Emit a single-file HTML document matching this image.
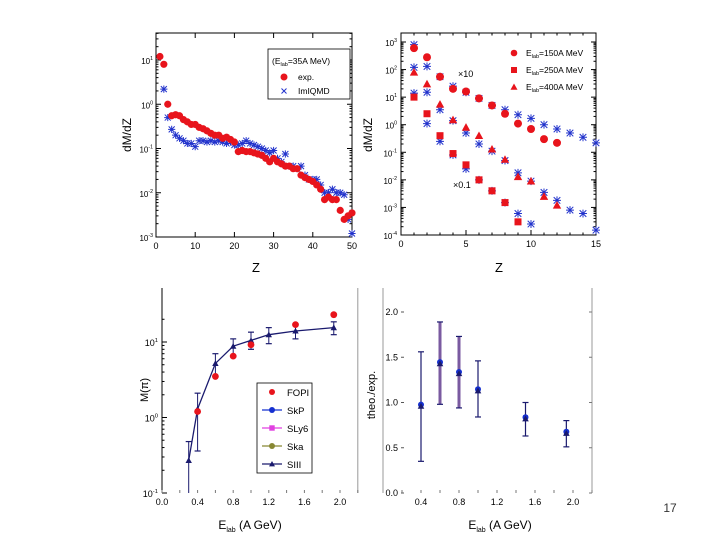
<!DOCTYPE html>
<html><head><meta charset="utf-8">
<style>
html,body{margin:0;padding:0;background:#fff;}
svg{display:block;font-family:"Liberation Sans",sans-serif;}
</style></head>
<body>
<svg id="fig" width="720" height="540" viewBox="0 0 720 540"></svg>
<script>
// ---- Panel A data (Elab=35A MeV) ----
const aZexp = [1,2,3,4,5,6,7,8,9,10,11,12,13,14,15,16,17,18,19,20,21,22,23,24,25,26,27,28,29,30,31,32,33,34,35,36,37,38,39,40,41,42,43,44,45,46,47,48,49,50];
const aExp = [12,8,1.0,0.55,0.58,0.55,0.45,0.4,0.35,0.35,0.3,0.28,0.25,0.22,0.2,0.2,0.17,0.18,0.16,0.14,0.085,0.09,0.085,0.085,0.08,0.075,0.07,0.06,0.05,0.06,0.05,0.045,0.04,0.04,0.035,0.035,0.025,0.022,0.02,0.018,0.015,0.012,0.007,0.008,0.007,0.007,0.004,0.0025,0.003,0.0035];
const aZqmd = [2,3,4,5,6,7,8,9,10,11,12,13,14,15,16,17,18,19,20,21,22,23,24,25,26,27,28,29,30,31,32,33,34,35,36,37,38,39,40,41,42,43,44,45,46,47,48,49,50];
const aQmd = [2.2,0.5,0.27,0.2,0.17,0.15,0.13,0.13,0.11,0.15,0.15,0.14,0.15,0.14,0.15,0.14,0.13,0.14,0.12,0.12,0.13,0.15,0.13,0.12,0.11,0.1,0.09,0.08,0.09,0.06,0.05,0.075,0.04,0.04,0.035,0.04,0.025,0.02,0.02,0.02,0.015,0.01,0.01,0.012,0.01,0.01,0.009,0.0025,0.0012];
// ---- Panel B data ----
const bZ = [1,2,3,4,5,6,7,8,9,10,11,12,13,14,15];
const b150 = [600,280,55,20,16,9,5,2.5,1.1,0.7,0.3,0.22];
const b150q = [800,130,55,25,15,9,5,3.5,2.3,1.7,1.0,0.7,0.5,0.35,0.22];
const b400 = [80,30,5.5,1.5,0.8,0.4,0.13,0.055,0.013,0.009,0.0025,0.0012];
const b400q = [120,15,3.5,1.4,0.5,0.2,0.11,0.05,0.018,0.009,0.0035,0.0018,0.0008,0.0006,0.00015];
const b250 = [10,2.5,0.4,0.09,0.035,0.01,0.004,0.0015,0.0003];
const b250q = [14,1.1,0.25,0.08,0.025,0.01,0.004,0.0015,0.0006,0.00025];
// ---- Panel C data ----
const cE = [0.3,0.4,0.6,0.8,1.0,1.2,1.5,1.93];
const cModel = [0.27,1.3,5.2,8.8,10.5,12.5,14,15.5];
const cLo = [0.1,0.36,3.5,6.5,8,9.5,11,12.5];
const cHi = [0.48,2.1,7,11,13.5,15.5,17.5,18.5];
const cFopiE = [0.4,0.6,0.8,1.0,1.5,1.93];
const cFopi = [1.2,3.5,6.5,9.2,17,23];
// ---- Panel D data ----
const dE = [0.4,0.6,0.8,1.0,1.5,1.93];
const dRatio = [0.96,1.43,1.32,1.13,0.82,0.66];
const dLo = [0.35,0.98,0.94,0.84,0.63,0.51];
const dHi = [1.56,1.89,1.73,1.46,1.0,0.8];

const NS="http://www.w3.org/2000/svg", svg=document.getElementById('fig');
function el(tag,attrs,parent,txt){const e=document.createElementNS(NS,tag);for(const k in attrs)e.setAttribute(k,attrs[k]);if(txt!==undefined)e.textContent=txt;(parent||svg).appendChild(e);return e;}
function lin(d0,d1,r0,r1){return v=>r0+(v-d0)/(d1-d0)*(r1-r0);}
function lg(d0,d1,r0,r1){return v=>r0+(Math.log10(v)-Math.log10(d0))/(Math.log10(d1)-Math.log10(d0))*(r1-r0);}
const RED="#e8141c",BLUE="#2233cc",NAVY="#1a1a6e";
function circ(g,x,y,r,c){el('circle',{cx:x,cy:y,r:r,fill:c},g);}
function sq(g,x,y,s,c){el('rect',{x:x-s,y:y-s,width:2*s,height:2*s,fill:c},g);}
function tri(g,x,y,s,c){el('polygon',{points:`${x},${y-s} ${x-s},${y+s*0.8} ${x+s},${y+s*0.8}`,fill:c},g);}
function xm(g,x,y,s,c){el('path',{d:`M${x-s},${y-s}L${x+s},${y+s}M${x-s},${y+s}L${x+s},${y-s}`,stroke:c,'stroke-width':1},g);}
function star(g,x,y,s,c){el('path',{d:`M${x-s},${y-s}L${x+s},${y+s}M${x-s},${y+s}L${x+s},${y-s}M${x},${y-s*1.2}L${x},${y+s*1.2}M${x-s*1.2},${y}L${x+s*1.2},${y}`,stroke:c,'stroke-width':1},g);}
function frame(g,x0,y0,x1,y1){el('rect',{x:x0,y:y0,width:x1-x0,height:y1-y0,fill:'none',stroke:'#000','stroke-width':1},g);}
function logTicks(g,ys,x0,x1,d0,d1){for(let e=Math.floor(Math.log10(d0));e<=Math.ceil(Math.log10(d1));e++){for(let m=1;m<10;m++){const v=m*Math.pow(10,e);if(v<d0*0.999||v>d1*1.001)continue;const y=ys(v),L=m==1?5:2.5;el('line',{x1:x0,y1:y,x2:x0+L,y2:y,stroke:'#000'},g);el('line',{x1:x1,y1:y,x2:x1-L,y2:y,stroke:'#000'},g);}}}
function pow10(g,x,y,e,fs){const t=el('text',{x:x,y:y,'font-size':fs,'text-anchor':'end'},g);const a=el('tspan',{},t,'10');const b=el('tspan',{dy:-4,'font-size':fs*0.65},t,String(e));}

// ================= Panel A =================
(function(){
const g=el('g',{});
const X=lin(0,50,156,352), Y=lg(1e-3,10,237,60);
frame(g,156,33,352,237);
logTicks(g,Y,156,352,1e-3,10**1.63);
for(let v=0;v<=50;v+=10){el('line',{x1:X(v),y1:237,x2:X(v),y2:232,stroke:'#000'},g);el('line',{x1:X(v),y1:33,x2:X(v),y2:38,stroke:'#000'},g);
 el('text',{x:X(v),y:249,'font-size':9,'text-anchor':'middle',},g,String(v));}
for(let e=-3;e<=1;e++)pow10(g,153,Y(10**e)+4,e,8);
aQmd.forEach((v,i)=>star(g,X(aZqmd[i]),Y(v),3,BLUE));
aExp.forEach((v,i)=>circ(g,X(aZexp[i]),Y(v),3.6,RED));
const L=el('g',{},g);
el('rect',{x:268,y:49,width:82,height:50,fill:'#fff',stroke:'#000','stroke-width':0.8},L);
const t=el('text',{x:272,y:64,'font-size':8.5},L);el('tspan',{},t,'(E');el('tspan',{dy:2,'font-size':5.5},t,'lab');el('tspan',{dy:-2},t,'=35A MeV)');
circ(L,284,77,3.5,RED);el('text',{x:298,y:80,'font-size':8.5},L,'exp.');
xm(L,284,91,2.5,BLUE);el('text',{x:298,y:94,'font-size':8.5},L,'ImIQMD');
el('text',{x:131,y:135,'font-size':12,'text-anchor':'middle',transform:'rotate(-90 131 135)',},g,'dM/dZ');
el('text',{x:256,y:272,'font-size':13,'text-anchor':'middle',},g,'Z');
})();

// ================= Panel B =================
(function(){
const g=el('g',{});
const X=lin(0,15,401,596), Y=lg(1e-4,1e3,235,42);
frame(g,401,33,596,235);
logTicks(g,Y,401,596,1e-4,10**3.3);
for(let v=0;v<=15;v++){const L=v%5==0?5:2.5;el('line',{x1:X(v),y1:235,x2:X(v),y2:235-L,stroke:'#000'},g);el('line',{x1:X(v),y1:33,x2:X(v),y2:33+L,stroke:'#000'},g);}
for(let v=0;v<=15;v+=5)el('text',{x:X(v),y:247,'font-size':9,'text-anchor':'middle',},g,String(v));
for(let e=-4;e<=3;e++)pow10(g,397,Y(10**e)+4,e,8);
b150q.forEach((v,i)=>star(g,X(bZ[i]),Y(v),3.3,BLUE));
b400q.forEach((v,i)=>star(g,X(bZ[i]),Y(v),3.3,BLUE));
b250q.forEach((v,i)=>star(g,X(bZ[i]),Y(v),3.3,BLUE));
b150.forEach((v,i)=>circ(g,X(bZ[i]),Y(v),4,RED));
b400.forEach((v,i)=>tri(g,X(bZ[i]),Y(v),4.2,RED));
b250.forEach((v,i)=>sq(g,X(bZ[i]),Y(v),3.5,RED));
el('text',{x:458,y:77,'font-size':9,},g,'×10');
el('text',{x:453,y:188,'font-size':9,},g,'×0.1');
const L=el('g',{},g);
const labs=['150','250','400'];
labs.forEach((s,i)=>{const y=53+i*17;if(i==0)circ(L,514,y,3.3,RED);else if(i==1)sq(L,514,y,3,RED);else tri(L,514,y,3.5,RED);
 const t=el('text',{x:526,y:y+3,'font-size':8.5},L);el('tspan',{},t,'E');el('tspan',{dy:2,'font-size':5.5},t,'lab');el('tspan',{dy:-2},t,'='+s+'A MeV');});
el('text',{x:372,y:135,'font-size':12,'text-anchor':'middle',transform:'rotate(-90 372 135)',},g,'dM/dZ');
el('text',{x:499,y:272,'font-size':13,'text-anchor':'middle',},g,'Z');
})();

// ================= Panel C =================
(function(){
const g=el('g',{});
const X=lin(0,2.0,162,340), Y=lg(0.1,10,493,342);
const x1=X(2.2);
el('line',{x1:162,y1:288,x2:162,y2:493,stroke:'#000'},g);
el('line',{x1:x1,y1:288,x2:x1,y2:493,stroke:'#999'},g);
for(let e=-1;e<=1;e++)for(let m=1;m<10;m++){const v=m*10**e;if(v>10**1.35)continue;const y=Y(v),L=m==1?5:2.5;el('line',{x1:162,y1:y,x2:162+L,y2:y,stroke:'#000'},g);}
for(let v=0;v<=2.2001;v+=0.2){el('line',{x1:X(v),y1:493,x2:X(v),y2:490,stroke:'#777'},g);}
[0,0.4,0.8,1.2,1.6,2.0].forEach(v=>el('text',{x:X(v),y:505,'font-size':9,'text-anchor':'middle',},g,v.toFixed(1)));
for(let e=-1;e<=1;e++)pow10(g,158,Y(10**e)+4,e,9);
const pts=cE.map((v,i)=>X(v)+','+Y(cModel[i])).join(' ');
el('polyline',{points:pts,fill:'none',stroke:NAVY,'stroke-width':1.3,},g);
cE.forEach((v,i)=>{const x=X(v);el('line',{x1:x,y1:Y(cLo[i]),x2:x,y2:Y(cHi[i]),stroke:NAVY,'stroke-width':1},g);
 [cLo[i],cHi[i]].forEach(w=>{if(w>0.1)el('line',{x1:x-3,y1:Y(w),x2:x+3,y2:Y(w),stroke:NAVY,'stroke-width':1.2},g);});
 tri(g,x,Y(cModel[i]),3.2,NAVY);});
cFopi.forEach((v,i)=>circ(g,X(cFopiE[i]),Y(v),3.4,RED));
const L=el('g',{},g);
el('rect',{x:257,y:383,width:55,height:90,fill:'#fff',stroke:'#000','stroke-width':0.8},L);
const items=[['FOPI',RED,'c',false],['SkP','#1530d0','c',true],['SLy6','#e040e0','s',true],['Ska','#888833','c',true],['SIII',NAVY,'t',true]];
items.forEach((it,i)=>{const y=392+i*18;if(it[3])el('line',{x1:262,y1:y,x2:282,y2:y,stroke:it[1],'stroke-width':1.3},L);
 if(it[2]=='c')circ(L,272,y,3,it[1]);else if(it[2]=='s')sq(L,272,y,2.7,it[1]);else tri(L,272,y,3,it[1]);
 el('text',{x:287,y:y+4,'font-size':9.5},L,it[0]);});
el('text',{x:148,y:390,'font-size':11,'text-anchor':'middle',transform:'rotate(-90 148 390)',},g,'M(π)');
const t=el('text',{x:250,y:529,'font-size':12,'text-anchor':'middle',},g);el('tspan',{},t,'E');el('tspan',{dy:3,'font-size':7},t,'lab');el('tspan',{dy:-3},t,' (A GeV)');
})();

// ================= Panel D =================
(function(){
const g=el('g',{});
const X=lin(0,2.0,383,573), Y=lin(0,2.0,493,312);
const x1=X(2.2);
el('line',{x1:383,y1:288,x2:383,y2:493,stroke:'#999'},g);
el('line',{x1:x1,y1:288,x2:x1,y2:493,stroke:'#999'},g);
for(let v=0;v<=2.0001;v+=0.5){const y=Y(v);el('line',{x1:x1,y1:y,x2:x1-3,y2:y,stroke:'#777'},g);
 el('text',{x:398,y:y+3,'font-size':9,'text-anchor':'end',},g,v.toFixed(1));
 el('line',{x1:401,y1:y,x2:404,y2:y,stroke:'#555'},g);}
for(let v=0.2;v<=2.2001;v+=0.2)el('line',{x1:X(v),y1:493,x2:X(v),y2:490,stroke:'#777'},g);
[0.4,0.8,1.2,1.6,2.0].forEach(v=>el('text',{x:X(v),y:505,'font-size':9,'text-anchor':'middle',},g,v.toFixed(1)));
dE.forEach((v,i)=>{const x=X(v);const purple=(i==1||i==2);
 el('line',{x1:x,y1:Y(dLo[i]),x2:x,y2:Y(dHi[i]),stroke:purple?'#7a5aa0':NAVY,'stroke-width':purple?3:1.2},g);
 [dLo[i],dHi[i]].forEach(w=>el('line',{x1:x-3,y1:Y(w),x2:x+3,y2:Y(w),stroke:NAVY,'stroke-width':1.2},g));
 circ(g,x,Y(dRatio[i])-1.5,3,'#1530d0');tri(g,x,Y(dRatio[i]),3.3,NAVY);});
el('text',{x:375,y:395,'font-size':11,'text-anchor':'middle',transform:'rotate(-90 375 395)',},g,'theo./exp.');
const t=el('text',{x:500,y:529,'font-size':12,'text-anchor':'middle',},g);el('tspan',{},t,'E');el('tspan',{dy:3,'font-size':7},t,'lab');el('tspan',{dy:-3},t,' (A GeV)');
})();
el('text',{x:670,y:512,'font-size':12,'text-anchor':'middle','fill':'#333',},svg,'17');
</script>
</body></html>
